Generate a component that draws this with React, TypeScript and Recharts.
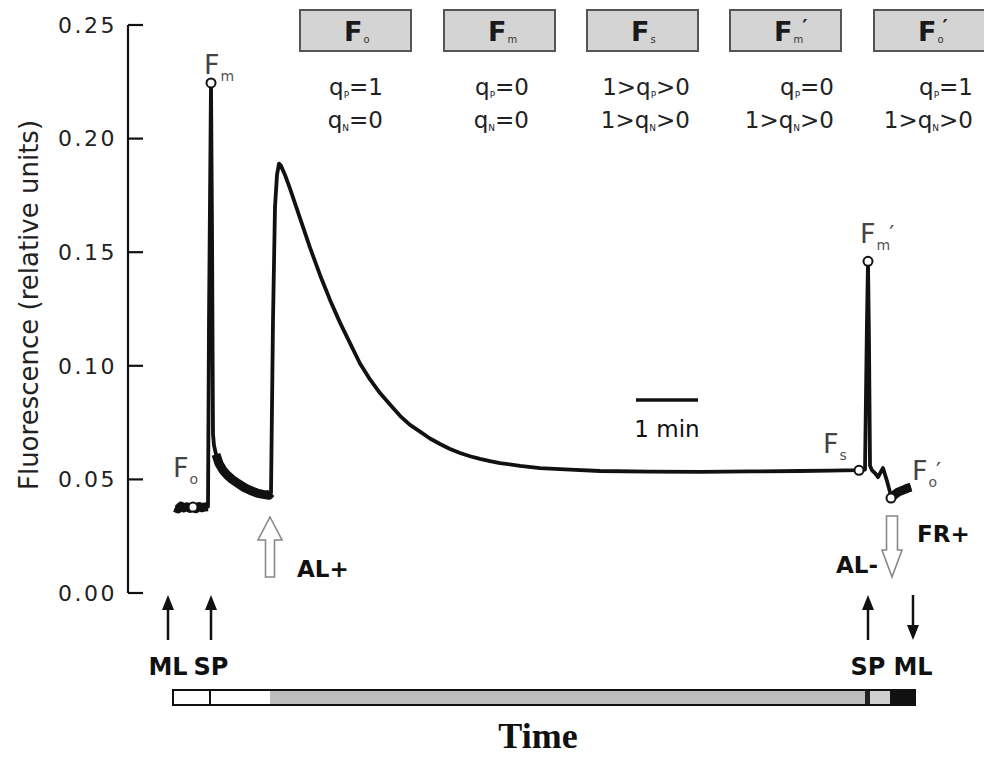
import React from "react";
import {
  ComposedChart,
  Line,
  Scatter,
  XAxis,
  YAxis,
  ReferenceArea,
  ReferenceDot,
  ReferenceLine,
} from "recharts";

// time in seconds from the start of the record (the 1 min bar is ~60 s)
const times = [
  1, 4, 7, 10, 13, 16, 19, 22, 25, 28, 31, 34, 35, 37, 38, 39, 40, 42, 45, 49, 53, 58, 63, 70, 76, 83, 89, 95,
  97, 99, 101, 103, 105, 107, 111, 116, 126, 136, 146, 156, 166, 176, 186, 196, 206, 216, 226, 236, 246, 256,
  266, 276, 286, 296, 306, 316, 326, 346, 366, 396, 426, 476, 526, 576, 626, 656, 684, 691, 693, 694, 695, 696,
  698, 701, 704, 709, 713, 716, 717, 719, 724, 729, 734, 737,
];
const signal = [
  0.0376, 0.037, 0.0382, 0.0374, 0.038, 0.0372, 0.0378, 0.0371, 0.0381, 0.0375, 0.0379, 0.038, 0.12, 0.2245,
  0.16, 0.07, 0.065, 0.061, 0.057, 0.054, 0.052, 0.05, 0.0485, 0.0465, 0.0452, 0.044, 0.0434, 0.043,
  0.044, 0.12, 0.17, 0.184, 0.189, 0.188, 0.184, 0.178, 0.165, 0.152, 0.14, 0.129, 0.119, 0.11, 0.101, 0.094,
  0.088, 0.083, 0.078, 0.074, 0.071, 0.068, 0.0656, 0.0634, 0.0616, 0.0602, 0.059, 0.058, 0.0572, 0.056,
  0.055, 0.0543, 0.0537, 0.0534, 0.0533, 0.0535, 0.0537, 0.0539, 0.0541, 0.0543, 0.12, 0.146, 0.11, 0.056,
  0.054, 0.0528, 0.051, 0.055, 0.0493, 0.0444, 0.0418, 0.0427, 0.0444, 0.0453, 0.0462, 0.0466,
];
// stretches where the record is noisy and reads as a thick band
const noisyRanges: [number, number][] = [
  [1, 34],
  [42, 97],
  [717, 737],
];

const yTicks = [0, 0.05, 0.1, 0.15, 0.2, 0.25];

const markerNames = ["Fo", "Fm", "Fs", "Fm'", "Fo'"];
const markerTimes = [19, 37, 685, 694, 717];
const markerValues = [0.0378, 0.2245, 0.054, 0.146, 0.0418];

// light protocol under the trace
const pulseLabels = ["ML", "SP", "SP", "ML"];
const pulseTimes = [-6, 37, 694, 739];
const pulseUp = [true, true, true, false];

const actinicLabels = ["AL+", "AL-"];
const actinicTimes = [96, 718];

const barStarts = [-1, 35, 37, 96, 691, 696, 716];
const barEnds = [35, 37, 96, 691, 696, 716, 741];
const barFills = ["#fff", "#111", "#fff", "#bdbdbd", "#222", "#cfcfcf", "#111"];

const boxSubs = ["o", "m", "s", "m", "o"];
const boxPrime = [false, false, false, true, true];
const qpPre = ["", "", "1>", "", ""];
const qpPost = ["=1", "=0", ">0", "=0", "=1"];
const qnPre = ["", "", "1>", "1>", "1>"];
const qnPost = ["=0", "=0", ">0", ">0", ">0"];

const rows = times.map((t, i) => ({
  t,
  signal: signal[i],
  band: noisyRanges.some(([a, b]) => t >= a && t <= b) ? signal[i] : null,
}));
const markers = markerNames.map((name, i) => ({ name, t: markerTimes[i], v: markerValues[i] }));

// label placement around each marker circle (px)
const labelPos: Record<string, [number, number]> = {
  Fo: [-20, -30],
  Fm: [-7, -9],
  Fs: [-36, -17],
  "Fm'": [-8, -18],
  "Fo'": [21, -18],
};

const SANS = "'DejaVu Sans', sans-serif";
const BAR_TOP = -0.0427;
const BAR_BOTTOM = -0.0493;

function MarkerShape(props: any) {
  const { cx, cy, payload } = props;
  const [dx, dy] = labelPos[payload.name];
  const prime = payload.name.endsWith("'");
  return (
    <g>
      <circle cx={cx} cy={cy} r={4.5} fill="#fff" stroke="#111" strokeWidth={2} />
      <text x={cx + dx} y={cy + dy} fontSize={27} fill="#444" fontFamily={SANS}>
        F
        <tspan fontSize={14} fill="#555" dx={1} dy={7}>
          {payload.name[1]}
        </tspan>
        {prime && (
          <tspan fontSize={22} dx={-1} dy={-9}>
            ′
          </tspan>
        )}
      </text>
    </g>
  );
}

function PulseArrow(props: any) {
  const { cx, cy, up, label } = props;
  const top = cy + 2;
  const bottom = cy + 47;
  const head = up
    ? `${cx},${top} ${cx - 6},${top + 15} ${cx + 6},${top + 15}`
    : `${cx},${bottom} ${cx - 6},${bottom - 15} ${cx + 6},${bottom - 15}`;
  return (
    <g>
      <line
        x1={cx}
        x2={cx}
        y1={up ? top + 12 : top}
        y2={up ? bottom : bottom - 12}
        stroke="#111"
        strokeWidth={2.5}
      />
      <polygon points={head} fill="#111" />
      <text x={cx} y={cy + 82} textAnchor="middle" fontSize={24} fontWeight="bold" fontFamily={SANS} fill="#111">
        {label}
      </text>
    </g>
  );
}

function ActinicArrow(props: any) {
  const { cx, cy, label } = props;
  const up = label === "AL+";
  const pts = up
    ? [
        [cx, cy - 76],
        [cx + 12, cy - 53],
        [cx + 4.5, cy - 53],
        [cx + 4.5, cy - 16],
        [cx - 4.5, cy - 16],
        [cx - 4.5, cy - 53],
        [cx - 12, cy - 53],
      ]
    : [
        [cx - 5.5, cy - 77],
        [cx + 5.5, cy - 77],
        [cx + 5.5, cy - 43],
        [cx + 10, cy - 43],
        [cx, cy - 16],
        [cx - 10, cy - 43],
        [cx - 5.5, cy - 43],
      ];
  return (
    <g>
      <polygon points={pts.map((p) => p.join(",")).join(" ")} fill="#fff" stroke="#888" strokeWidth={1.6} />
      {up ? (
        <text x={cx + 27} y={cy - 16} fontSize={23} fontWeight="bold" fontFamily={SANS} fill="#111">
          {label}
        </text>
      ) : (
        <>
          <text x={cx - 14} y={cy - 20} textAnchor="end" fontSize={23} fontWeight="bold" fontFamily={SANS} fill="#111">
            {label}
          </text>
          <text x={cx + 25} y={cy - 51} fontSize={23} fontWeight="bold" fontFamily={SANS} fill="#111">
            FR+
          </text>
        </>
      )}
    </g>
  );
}

function TopPanel() {
  const xs = [300, 444, 587, 730, 874];
  const rights = [383, 529, 690, 834, 973];
  return (
    <svg
      width={984}
      height={757}
      style={{ position: "absolute", left: 0, top: 0, pointerEvents: "none" }}
    >
      {xs.map((x, i) => (
        <g key={i}>
          <rect x={x} y={10} width={111} height={41} fill="#d4d4d4" stroke="#555" strokeWidth={2} />
          <text x={x + 44} y={41} fontSize={27} fontWeight="bold" fontFamily={SANS} fill="#1a1a1a">
            F
            <tspan fontSize={10} fontWeight="normal" fill="#333" dx={1} dy={2}>
              {boxSubs[i]}
            </tspan>
            {boxPrime[i] && (
              <tspan fontSize={20} dx={-1} dy={-10}>
                ′
              </tspan>
            )}
          </text>
          <text x={rights[i]} y={95} textAnchor="end" fontSize={23} fontFamily={SANS} fill="#222">
            {qpPre[i]}q<tspan fontSize={9} dy={3}>P</tspan>
            <tspan dy={-3}>{qpPost[i]}</tspan>
          </text>
          <text x={rights[i]} y={128} textAnchor="end" fontSize={23} fontFamily={SANS} fill="#222">
            {qnPre[i]}q<tspan fontSize={9} dy={3}>N</tspan>
            <tspan dy={-3}>{qnPost[i]}</tspan>
          </text>
        </g>
      ))}
      <text
        transform="translate(38,305) rotate(-90)"
        textAnchor="middle"
        fontSize={26}
        fontFamily={SANS}
        fill="#222"
      >
        Fluorescence (relative units)
      </text>
      <text x={667} y={437} textAnchor="middle" fontSize={23} fontFamily={SANS} fill="#111">
        1 min
      </text>
      <text
        x={538}
        y={748}
        textAnchor="middle"
        fontSize={36}
        fontWeight="bold"
        fontFamily="'Liberation Serif', 'Times New Roman', serif"
        fill="#111"
      >
        Time
      </text>
    </svg>
  );
}

export default function App() {
  return (
    <div style={{ position: "absolute", left: 0, top: 0, width: 984, height: 757, background: "#fff" }}>
      <ComposedChart width={984} height={757} data={rows} margin={{ top: 25, right: 16, bottom: 164, left: 0 }}>
        <XAxis dataKey="t" type="number" domain={[-46, 794]} hide />
        <YAxis
          width={128}
          type="number"
          domain={[0, 0.25]}
          ticks={yTicks}
          tickFormatter={(v: number) => v.toFixed(2)}
          tickSize={-15}
          tickMargin={26}
          axisLine={{ stroke: "#111", strokeWidth: 2.2 }}
          tickLine={{ stroke: "#111", strokeWidth: 2.2 }}
          tick={{ fontSize: 22, fill: "#222", fontFamily: SANS, letterSpacing: 2.5 }}
        />
        {barStarts.map((a, i) => (
          <ReferenceArea
            key={"bar" + i}
            x1={a}
            x2={barEnds[i]}
            y1={BAR_BOTTOM}
            y2={BAR_TOP}
            fill={barFills[i]}
            fillOpacity={1}
            stroke="none"
            ifOverflow="visible"
          />
        ))}
        <ReferenceArea
          x1={barStarts[0]}
          x2={barEnds[barEnds.length - 1]}
          y1={BAR_BOTTOM}
          y2={BAR_TOP}
          fill="none"
          stroke="#111"
          strokeWidth={2}
          ifOverflow="visible"
        />
        <ReferenceLine
          segment={[
            { x: 462, y: 0.0849 },
            { x: 524, y: 0.0849 },
          ]}
          stroke="#111"
          strokeWidth={3.5}
          ifOverflow="visible"
        />
        {pulseTimes.map((t, i) => (
          <ReferenceDot
            key={"p" + i}
            x={t}
            y={0}
            ifOverflow="visible"
            shape={(p: any) => <PulseArrow {...p} up={pulseUp[i]} label={pulseLabels[i]} />}
          />
        ))}
        {actinicTimes.map((t, i) => (
          <ReferenceDot
            key={"a" + i}
            x={t}
            y={0}
            ifOverflow="visible"
            shape={(p: any) => <ActinicArrow {...p} label={actinicLabels[i]} />}
          />
        ))}
        <Line
          type="linear"
          dataKey="band"
          stroke="#111"
          strokeWidth={9}
          strokeLinejoin="round"
          dot={false}
          connectNulls={false}
          isAnimationActive={false}
        />
        <Line
          type="linear"
          dataKey="signal"
          stroke="#111"
          strokeWidth={3.8}
          strokeLinejoin="round"
          dot={false}
          isAnimationActive={false}
        />
        <Scatter data={markers} dataKey="v" shape={MarkerShape} isAnimationActive={false} />
      </ComposedChart>
      <TopPanel />
    </div>
  );
}
